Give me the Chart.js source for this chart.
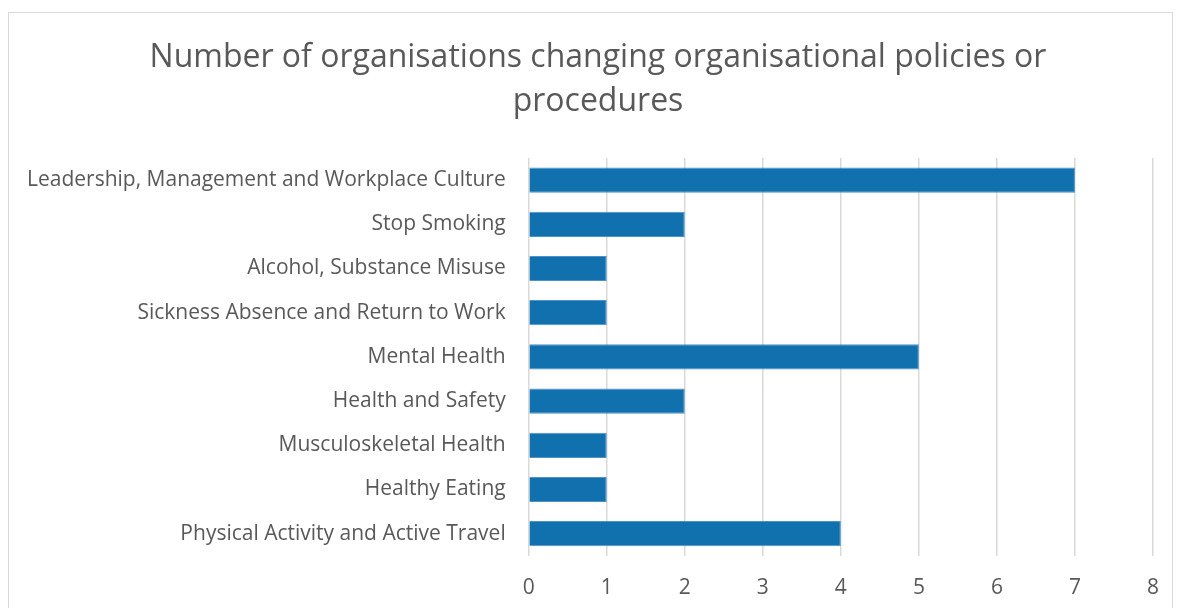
<!DOCTYPE html>
<html>
<head>
<meta charset="utf-8">
<script src="https://cdn.jsdelivr.net/npm/chart.js@4.4.1/dist/chart.umd.min.js"></script>
<style>
    html, body { margin: 0; padding: 0; background: #fff; overflow: hidden; }
    #wrap { position: absolute; left: 0; top: 0; width: 1179px; height: 608px; }
    #frame { position: absolute; left: 8px; top: 12px; width: 1163px; height: 620px; border: 1px solid #d9d9d9; pointer-events: none; }
</style>
</head>
<body>
<div id="wrap"><canvas id="mainChart" width="1179" height="608"></canvas></div>
<div id="frame"></div>
<script>
const categories = [
    'Leadership, Management and Workplace Culture',
    'Stop Smoking',
    'Alcohol, Substance Misuse',
    'Sickness Absence and Return to Work',
    'Mental Health',
    'Health and Safety',
    'Musculoskeletal Health',
    'Healthy Eating',
    'Physical Activity and Active Travel'
];
const counts = [7, 2, 1, 1, 5, 2, 1, 1, 4];
const xTicks = [0, 1, 2, 3, 4, 5, 6, 7, 8];
const titleLines = ['Number of organisations changing organisational policies or', 'procedures'];

// nudge the title to the right, the way the original sits
const titleShift = {
    id: 'titleShift',
    afterLayout: chart => {
        if (chart.titleBlock) {
            chart.titleBlock.left += 15;
            chart.titleBlock.right += 15;
        }
    }
};

document.addEventListener('DOMContentLoaded', () => {
    Chart.defaults.color = '#595959';
    Chart.defaults.font.family = '"Open Sans", sans-serif';

    const ctx = document.getElementById('mainChart').getContext('2d');
    new Chart(ctx, {
        type: 'bar',
        data: {
            labels: categories,
            datasets: [{
                data: counts,
                backgroundColor: '#1170AE',
                borderColor: '#4d93c9',
                borderWidth: 1,
                barPercentage: 0.57,
                categoryPercentage: 1
            }]
        },
        options: {
            indexAxis: 'y',
            responsive: false,
            animation: false,
            layout: { padding: { left: 12, right: 25, top: 36, bottom: -13 } },
            plugins: {
                legend: { display: false },
                tooltip: { enabled: false },
                title: {
                    display: true,
                    text: titleLines,
                    color: '#595959',
                    font: { size: 32, weight: 'normal', lineHeight: 1.375 },
                    padding: { top: 0, bottom: 34 }
                }
            },
            scales: {
                x: {
                    min: 0,
                    max: 8,
                    afterBuildTicks: axis => { axis.ticks = xTicks.map(v => ({ value: v })); },
                    grid: { color: '#d9d9d9', lineWidth: 1.5, drawTicks: false },
                    border: { display: false },
                    ticks: { color: '#595959', font: { size: 21 }, padding: 20 }
                },
                y: {
                    grid: { display: false },
                    border: { display: false },
                    ticks: { color: '#595959', font: { size: 21 }, padding: 15 }
                }
            }
        },
        plugins: [titleShift]
    });
});
</script>
</body>
</html>
